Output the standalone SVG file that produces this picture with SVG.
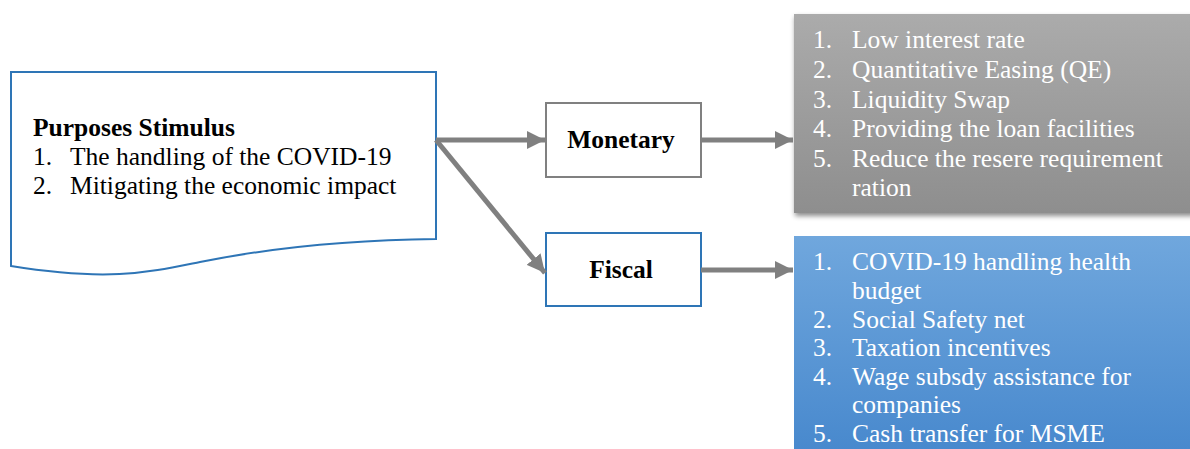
<svg xmlns="http://www.w3.org/2000/svg" width="1190" height="449" viewBox="0 0 1190 449">
<style>
.t{font-family:"Liberation Serif","Times New Roman",serif;font-size:25.5px;fill:#000}
.b{font-weight:bold}
.w{fill:#fff}
.conn{stroke:#808080;stroke-width:5;fill:none}
</style>
<defs>
<marker id="ah" viewBox="0 0 10 10" refX="10" refY="5" markerWidth="3.6" markerHeight="3.6" orient="auto" markerUnits="strokeWidth">
<path d="M0,0 L10,5 L0,10 Z" fill="#808080"/>
</marker>
<linearGradient id="gg" x1="0" y1="0" x2="0" y2="1">
<stop offset="0" stop-color="#ababab"/>
<stop offset="1" stop-color="#8e8e8e"/>
</linearGradient>
<linearGradient id="bg" x1="0" y1="0" x2="0" y2="1">
<stop offset="0" stop-color="#70a7dd"/>
<stop offset="1" stop-color="#4788cd"/>
</linearGradient>
<filter id="sh" x="-10%" y="-10%" width="130%" height="130%">
<feDropShadow dx="1" dy="3" stdDeviation="2.5" flood-color="#000" flood-opacity="0.45"/>
</filter>
</defs>
<g id="purposes">
<path d="M11,72 L436,72 L436,239 C340,240 260,250 200,262 C150,272 110,282 11,266 Z" fill="#fff" stroke="#2e75b6" stroke-width="2"/>
<text class="t b" x="33" y="136">Purposes Stimulus</text>
<text class="t" x="33" y="165">1.</text><text class="t" x="70" y="165">The handling of the COVID-19</text>
<text class="t" x="33" y="194">2.</text><text class="t" x="70" y="194">Mitigating the economic impact</text>
</g>
<g id="monetary">
<rect x="546" y="103" width="155" height="74" fill="#fff" stroke="#808080" stroke-width="2"/>
<text class="t b" x="621" y="148" text-anchor="middle">Monetary</text>
</g>
<g id="fiscal">
<rect x="546" y="233" width="155" height="73" fill="#fff" stroke="#2e75b6" stroke-width="2"/>
<text class="t b" x="621" y="278" text-anchor="middle">Fiscal</text>
</g>
<g id="monetary-list">
<rect x="794" y="14" width="400" height="199" fill="url(#gg)" filter="url(#sh)"/>
<text class="t w" x="813" y="48">1.</text><text class="t w" x="852" y="48">Low interest rate</text>
<text class="t w" x="813" y="78">2.</text><text class="t w" x="852" y="78">Quantitative Easing (QE)</text>
<text class="t w" x="813" y="108">3.</text><text class="t w" x="852" y="108">Liquidity Swap</text>
<text class="t w" x="813" y="137">4.</text><text class="t w" x="852" y="137">Providing the loan facilities</text>
<text class="t w" x="813" y="167">5.</text><text class="t w" x="852" y="167">Reduce the resere requirement</text>
<text class="t w" x="852" y="196">ration</text>
</g>
<g id="fiscal-list">
<rect x="794" y="236" width="400" height="220" fill="url(#bg)"/>
<text class="t w" x="813" y="270">1.</text><text class="t w" x="852" y="270">COVID-19 handling health</text>
<text class="t w" x="852" y="299">budget</text>
<text class="t w" x="813" y="328">2.</text><text class="t w" x="852" y="328">Social Safety net</text>
<text class="t w" x="813" y="356">3.</text><text class="t w" x="852" y="356">Taxation incentives</text>
<text class="t w" x="813" y="385">4.</text><text class="t w" x="852" y="385">Wage subsdy assistance for</text>
<text class="t w" x="852" y="413">companies</text>
<text class="t w" x="813" y="442">5.</text><text class="t w" x="852" y="442">Cash transfer for MSME</text>
</g>
<g id="connectors">
<line class="conn" x1="436" y1="140" x2="545" y2="140" marker-end="url(#ah)"/>
<line class="conn" x1="436" y1="140" x2="545" y2="273" marker-end="url(#ah)"/>
<line class="conn" x1="701" y1="140" x2="793" y2="140" marker-end="url(#ah)"/>
<line class="conn" x1="701" y1="270" x2="793" y2="270" marker-end="url(#ah)"/>
</g>
</svg>
